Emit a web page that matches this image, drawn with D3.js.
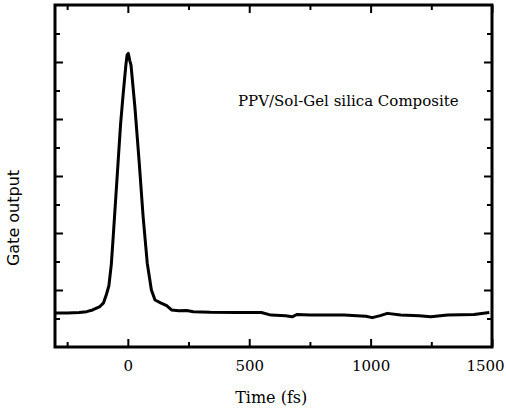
<!DOCTYPE html>
<html>
<head>
<meta charset="utf-8">
<script src="https://cdn.jsdelivr.net/npm/d3@7"></script>
<style>
  body { margin: 0; background: #fff; }
  svg { display: block; }
  .axis path { display: none; }
  .axis line { stroke: #000; stroke-width: 2; }
  .axis text { font-family: 'DejaVu Serif', serif; font-size: 15px; fill: #000; }
</style>
</head>
<body>
<div id="chart"></div>
<script>
// time delay (fs) and gate output (arbitrary units)
const timeFs = [-300, -250, -200, -170, -145, -115, -100, -88, -78, -68, -60, -50, -40, -30, -20, -8, -3, 2, 8, 13,
  29, 47, 63, 80, 97, 112, 135, 160, 180, 210, 242, 270, 340, 450, 550, 590, 650, 677, 696, 750, 890, 980,
  1007, 1040, 1069, 1124, 1200, 1248, 1317, 1426, 1489];
const gateOut = [1.19, 1.19, 1.21, 1.24, 1.30, 1.42, 1.55, 1.85, 2.15, 2.9, 3.9, 5.2, 6.5, 7.8, 8.8, 9.9, 10.25, 10.3, 10.05, 9.9,
  8.43, 6.46, 4.57, 2.94, 2.0, 1.65, 1.55, 1.45, 1.3, 1.27, 1.28, 1.24, 1.22, 1.21, 1.21, 1.12, 1.10, 1.06, 1.14, 1.12, 1.12, 1.08,
  1.03, 1.10, 1.18, 1.12, 1.10, 1.06, 1.12, 1.14, 1.21];
const xMajor = [0, 500, 1000, 1500];
const xMinor = [-250, 250, 750, 1250];
const yMajor = [2, 4, 6, 8, 10];
const yMinor = [1, 3, 5, 7, 9, 11];
const label = 'PPV/Sol-Gel silica Composite';

const margin = {top: 5, right: 14, bottom: 66, left: 55};
const width = 506 - margin.left - margin.right;
const height = 413 - margin.top - margin.bottom;

const x = d3.scaleLinear().domain([-300, 1500]).range([0, width]);
const y = d3.scaleLinear().domain([0, 12]).range([height, 0]);

const svg = d3.select('#chart').append('svg')
  .attr('width', 506)
  .attr('height', 413)
  .append('g')
  .attr('transform', 'translate(' + margin.left + ',' + margin.top + ')');

// inward ticks on all four sides
svg.append('g').attr('class', 'axis')
  .attr('transform', 'translate(0,' + height + ')')
  .call(d3.axisBottom(x).tickValues(xMajor).tickSizeInner(-8).tickSizeOuter(0).tickPadding(10).tickFormat(d3.format('d')))
  .call(g => g.selectAll('text').attr('dy', '0.95em').filter(d => d === 1500).attr('dx', -7));
svg.append('g').attr('class', 'axis')
  .attr('transform', 'translate(0,' + height + ')')
  .call(d3.axisBottom(x).tickValues(xMinor).tickSize(-5).tickFormat(''));
svg.append('g').attr('class', 'axis')
  .call(d3.axisTop(x).tickValues(xMajor).tickSize(-8).tickFormat(''));
svg.append('g').attr('class', 'axis')
  .call(d3.axisTop(x).tickValues(xMinor).tickSize(-5).tickFormat(''));
svg.append('g').attr('class', 'axis')
  .call(d3.axisLeft(y).tickValues(yMajor).tickSize(-8).tickFormat(''));
svg.append('g').attr('class', 'axis')
  .call(d3.axisLeft(y).tickValues(yMinor).tickSize(-5).tickFormat(''));
svg.append('g').attr('class', 'axis')
  .attr('transform', 'translate(' + width + ',0)')
  .call(d3.axisRight(y).tickValues(yMajor).tickSize(-8).tickFormat(''));
svg.append('g').attr('class', 'axis')
  .attr('transform', 'translate(' + width + ',0)')
  .call(d3.axisRight(y).tickValues(yMinor).tickSize(-5).tickFormat(''));

svg.append('rect')
  .attr('width', width)
  .attr('height', height)
  .attr('fill', 'none')
  .attr('stroke', '#000')
  .attr('stroke-width', 3);

const line = d3.line()
  .x((d, i) => x(timeFs[i]))
  .y(d => y(d));

svg.append('path')
  .datum(gateOut)
  .attr('d', line)
  .attr('fill', 'none')
  .attr('stroke', '#000')
  .attr('stroke-width', 3)
  .attr('stroke-linejoin', 'round');

svg.append('text')
  .attr('x', 183)
  .attr('y', 100.5)
  .attr('font-family', 'DejaVu Serif, serif')
  .attr('font-size', 15)
  .text(label);

svg.append('text')
  .attr('x', x(500) + 22)
  .attr('y', 398)
  .attr('text-anchor', 'middle')
  .attr('font-family', 'DejaVu Serif, serif')
  .attr('font-size', 16)
  .text('Time (fs)');

svg.append('text')
  .attr('transform', 'translate(-36,' + (213) + ') rotate(-90)')
  .attr('text-anchor', 'middle')
  .attr('font-family', 'DejaVu Sans, sans-serif')
  .attr('font-size', 16)
  .text('Gate output');
</script>
</body>
</html>
